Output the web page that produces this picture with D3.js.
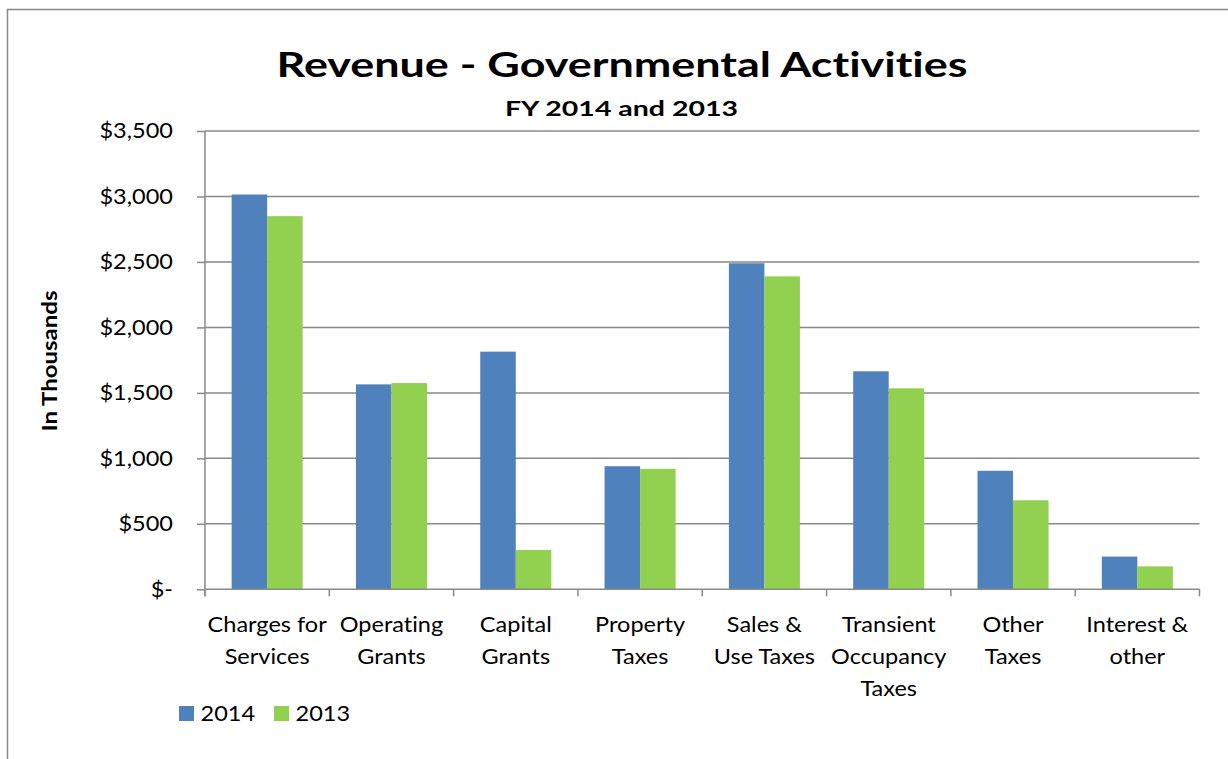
<!DOCTYPE html>
<html>
<head>
<meta charset="utf-8">
<script src="https://cdn.jsdelivr.net/npm/d3@7"></script>
<style>
  body { margin: 0; background: #fff; }
  text { font-family: Lato, "Open Sans", sans-serif; fill: #000; font-variant-ligatures: none; }
</style>
</head>
<body>
<svg id="chart" width="1228" height="759"></svg>
<script>
// Revenue categories (line breaks mark where each axis label wraps)
const categories = [
  "Charges for\nServices",
  "Operating\nGrants",
  "Capital\nGrants",
  "Property\nTaxes",
  "Sales &\nUse Taxes",
  "Transient\nOccupancy\nTaxes",
  "Other\nTaxes",
  "Interest &\nother"
];
const seriesNames = ["2014", "2013"];
// Revenue in thousands of dollars
const values2014 = [3015, 1565, 1815, 940, 2490, 1665, 905, 250];
const values2013 = [2850, 1575, 300, 920, 2390, 1535, 680, 175];
const yTicks = [0, 500, 1000, 1500, 2000, 2500, 3000, 3500];
const colors = ["#4F81BD", "#92D050"];

const svg = d3.select("#chart");
const plot = { left: 205, right: 1199.5, top: 131, bottom: 589.3 };
const gridColor = "#898989";
// Text is drawn slightly widened horizontally
const bodySize = 21, bodyStretch = 1.12;

// Outer chart frame
svg.append("rect")
  .attr("x", 7.5).attr("y", 9.5)
  .attr("width", 1400).attr("height", 900)
  .attr("fill", "none").attr("stroke", gridColor).attr("stroke-width", 1.5);

const x0 = d3.scaleBand().domain(categories).range([plot.left, plot.right]).paddingInner(0).paddingOuter(0);
const x1 = d3.scaleBand().domain(seriesNames).range([0, x0.bandwidth()]).paddingInner(0).paddingOuter(0.75);
const y = d3.scaleLinear().domain([0, 3500]).range([plot.bottom, plot.top]);

// Horizontal gridlines
svg.append("g").selectAll("line").data(yTicks.filter(d => d > 0)).join("line")
  .attr("x1", plot.left).attr("x2", plot.right)
  .attr("y1", d => y(d)).attr("y2", d => y(d))
  .attr("stroke", gridColor).attr("stroke-width", 1.5);

// Bars
const rows = categories.map((c, i) => ({ cat: c, vals: [values2014[i], values2013[i]] }));
const groups = svg.append("g").selectAll("g").data(rows).join("g")
  .attr("transform", d => `translate(${x0(d.cat)},0)`);
groups.selectAll("rect").data(d => d.vals.map((v, j) => ({ key: seriesNames[j], v, j }))).join("rect")
  .attr("x", d => x1(d.key))
  .attr("width", x1.bandwidth())
  .attr("y", d => y(d.v))
  .attr("height", d => y(0) - y(d.v))
  .attr("fill", d => colors[d.j]);

// Y axis
const yAxis = d3.axisLeft(y)
  .tickValues(yTicks)
  .tickSize(8)
  .tickPadding(0)
  .tickFormat(d => d === 0 ? "$-" : "$" + d3.format(",")(d));
const gy = svg.append("g").attr("transform", `translate(${plot.left},0)`).call(yAxis);
gy.select(".domain").attr("stroke", gridColor).attr("stroke-width", 1.5)
  .attr("d", `M0,${plot.top}V${plot.bottom + 7}`);
gy.selectAll(".tick line").attr("stroke", gridColor).attr("stroke-width", 1.5);
gy.selectAll(".tick text")
  .attr("x", null)
  .attr("transform", `translate(-32,0) scale(${bodyStretch},1)`)
  .style("font-size", bodySize + "px").attr("fill", "#000").attr("font-family", null);

// X axis line with ticks at category boundaries
const bounds = categories.map(c => x0(c)).concat([plot.right]);
svg.append("line")
  .attr("x1", plot.left).attr("x2", plot.right)
  .attr("y1", plot.bottom).attr("y2", plot.bottom)
  .attr("stroke", gridColor).attr("stroke-width", 1.5);
svg.append("g").selectAll("line").data(bounds).join("line")
  .attr("x1", d => d).attr("x2", d => d)
  .attr("y1", plot.bottom).attr("y2", plot.bottom + 7)
  .attr("stroke", gridColor).attr("stroke-width", 1.5);

// Category labels
const labels = svg.append("g").selectAll("text").data(categories).join("text")
  .attr("text-anchor", "middle")
  .attr("transform", c => `translate(${x0(c) + x0.bandwidth() / 2},632) scale(${bodyStretch},1)`)
  .style("font-size", bodySize + "px");
labels.selectAll("tspan").data(c => c.split("\n")).join("tspan")
  .attr("x", 0)
  .attr("dy", (d, i) => i === 0 ? 0 : 32)
  .text(d => d);

// Titles
svg.append("text").attr("text-anchor", "middle")
  .attr("transform", "translate(622,76.7) scale(1.34,1)")
  .style("font-size", "33.5px").style("font-weight", "bold")
  .text("Revenue - Governmental Activities");
svg.append("text").attr("text-anchor", "middle")
  .attr("transform", "translate(621.5,116) scale(1.39,1)")
  .style("font-size", "20.5px").style("font-weight", "bold")
  .text("FY 2014 and 2013");
svg.append("text")
  .attr("transform", "translate(56.5,361) rotate(-90) scale(1.17,1)")
  .attr("text-anchor", "middle")
  .style("font-size", "20.5px").style("font-weight", "bold")
  .text("In Thousands");

// Legend
const legendX = [179, 274];
const legend = svg.append("g").selectAll("g").data(seriesNames).join("g")
  .attr("transform", (d, i) => `translate(${legendX[i]},706)`);
legend.append("rect").attr("width", 15).attr("height", 15).attr("fill", (d, i) => colors[i]);
legend.append("text")
  .attr("transform", `translate(21.5,14.7) scale(${bodyStretch},1)`)
  .style("font-size", bodySize + "px").text(d => d);
</script>
</body>
</html>
